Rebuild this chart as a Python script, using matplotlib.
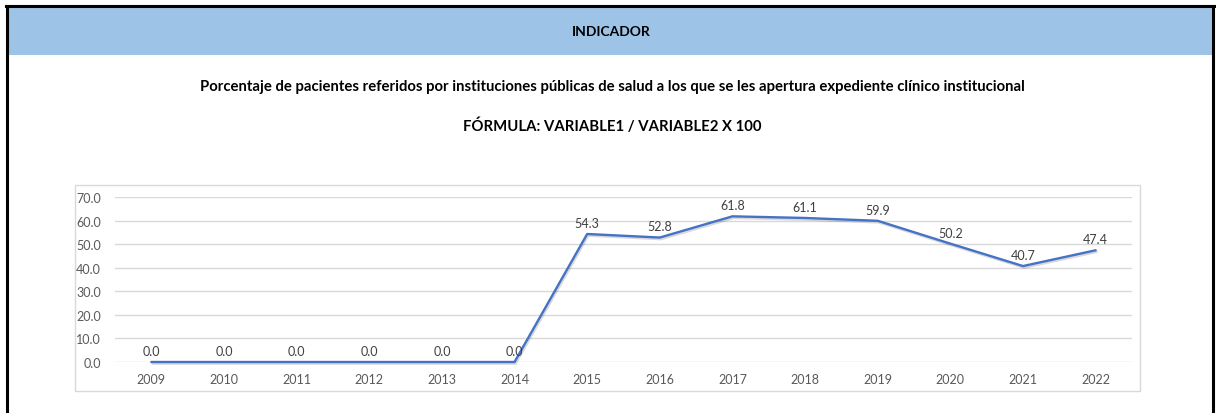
import matplotlib.pyplot as plt
from matplotlib.patches import Rectangle
import matplotlib.patheffects as pe

# ---------- DATA ----------
years = ["2009", "2010", "2011", "2012", "2013", "2014", "2015",
         "2016", "2017", "2018", "2019", "2020", "2021", "2022"]
values = [0.0, 0.0, 0.0, 0.0, 0.0, 0.0, 54.3, 52.8, 61.8, 61.1, 59.9, 50.2, 40.7, 47.4]
y_ticks = [0, 10, 20, 30, 40, 50, 60, 70]

header = "INDICADOR"
title = ("Porcentaje de pacientes referidos por instituciones públicas de salud "
         "a los que se les apertura expediente clínico institucional")
formula = "FÓRMULA: VARIABLE1 / VARIABLE2 X 100"

# ---------- FIGURE ----------
W, H = 1216, 414
plt.rcParams["font.family"] = ["Lato", "DejaVu Sans"]
fig = plt.figure(figsize=(W / 100, H / 100), dpi=100)


def fx(px):
    return px / W


def fy(py):
    return 1 - py / H


# outer border + header band
fig.patches.append(Rectangle((fx(7), fy(56)), fx(1206), fy(7) - fy(56),
                             transform=fig.transFigure, facecolor="#9DC3E6",
                             edgecolor="none", zorder=-2))
fig.add_artist(plt.Line2D([fx(7), fx(7)], [fy(7), 0], color="black", lw=2.2,
                          transform=fig.transFigure))
fig.add_artist(plt.Line2D([fx(1213), fx(1213)], [fy(7), 0], color="black", lw=2.2,
                          transform=fig.transFigure))
fig.add_artist(plt.Line2D([fx(6), fx(1214)], [fy(7), fy(7)], color="black", lw=2.2,
                          transform=fig.transFigure))

fig.text(fx(611), fy(32), header, ha="center", va="center",
         fontsize=10, fontweight="bold", color="black")
fig.text(fx(612), fy(87), title, ha="center", va="center",
         fontsize=10.7, fontweight="bold", color="black")
fig.text(fx(612), fy(126), formula, ha="center", va="center",
         fontsize=10.7, fontweight="bold", color="black")

# chart frame
fig.patches.append(Rectangle((fx(75), fy(392)), fx(1065), fy(186) - fy(392),
                             transform=fig.transFigure, facecolor="none",
                             edgecolor="#D9D9D9", lw=1, zorder=-1))

# ---------- PLOT ----------
ax = fig.add_axes([fx(115), fy(363), fx(1132) - fx(115), fy(198) - fy(363)])
ax.set_facecolor("none")
x = list(range(len(years)))
ax.plot(x, values, color="#4472C4", lw=1.7, solid_capstyle="round", zorder=3,
        clip_on=False,
        path_effects=[pe.SimpleLineShadow(offset=(0.8, -1.2), alpha=0.15),
                      pe.Normal()])

for xi, v in zip(x, values):
    ax.annotate(f"{v:.1f}", (xi, v), xytext=(0, 8), textcoords="offset points",
                ha="center", va="center", fontsize=9, color="#404040")

ax.set_xlim(-0.5, len(years) - 0.5)
ax.set_ylim(0, 70)
ax.set_xticks(x)
ax.set_xticklabels(years)
ax.set_yticks(y_ticks)
ax.set_yticklabels([f"{t:.1f}" for t in y_ticks])
ax.tick_params(axis="both", length=0, labelsize=9, labelcolor="#595959")
ax.tick_params(axis="x", pad=8)
ax.tick_params(axis="y", pad=10)
ax.grid(axis="y", color="#D9D9D9", lw=1)
ax.set_axisbelow(True)
for s in ax.spines.values():
    s.set_visible(False)

fig.savefig("out.png", dpi=100)
